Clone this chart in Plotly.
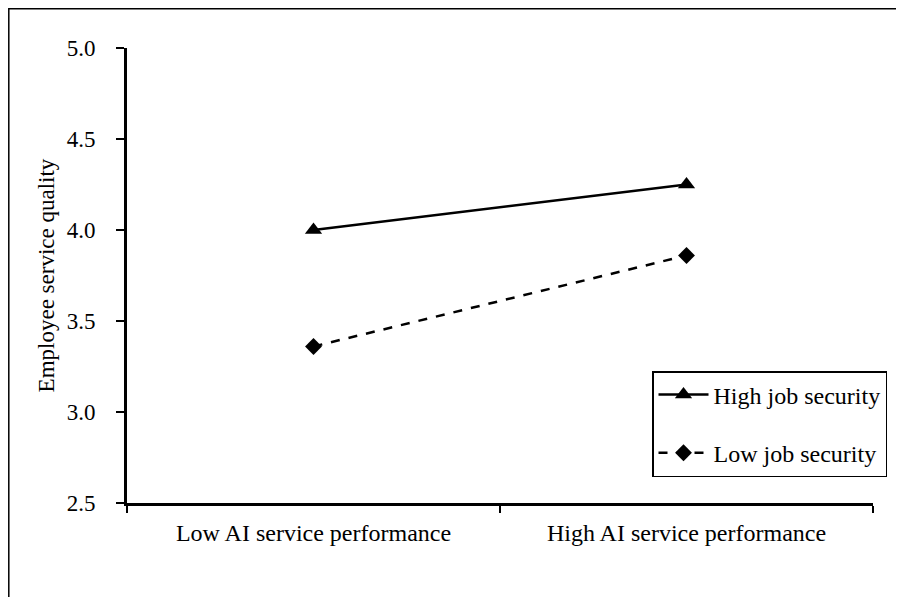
import plotly.graph_objects as go

categories = ["Low AI service performance", "High AI service performance"]
high_security = [4.00, 4.25]
low_security = [3.36, 3.86]
y_ticks = [2.5, 3.0, 3.5, 4.0, 4.5, 5.0]
y_tick_labels = ["2.5", "3.0", "3.5", "4.0", "4.5", "5.0"]

FONT = "Liberation Serif"

fig = go.Figure()
fig.add_trace(go.Scatter(
    x=categories, y=high_security, name="High job security",
    mode="lines+markers", legendgroup="a",
    line=dict(color="black", width=2.5, dash="solid"),
    marker=dict(symbol="triangle-up", size=15, color="black"),
))
fig.add_trace(go.Scatter(
    x=categories, y=low_security, name="Low job security",
    mode="lines+markers", legendgroup="b",
    line=dict(color="black", width=2.5, dash="dash"),
    marker=dict(symbol="diamond", size=13, color="black"),
))

# page body has an 8px margin, so the figure starts at (8, 8)
OFF = 8
L, R, T, B = 127 - OFF, 31, 48 - OFF, 94
W, H = 904 - OFF, 597 - OFF
pw, ph = W - L - R, H - T - B

def px2x(p):
    return (p - OFF - L) / pw

def py2y(p):
    return (H - B - (p - OFF)) / ph

fig.add_shape(type="rect", xref="paper", yref="paper",
              x0=px2x(8.8), x1=px2x(920), y0=py2y(8.8), y1=py2y(620),
              line=dict(color="black", width=1.5), layer="below")

fig.update_layout(
    width=W, height=H,
    margin=dict(l=L, r=R, t=T, b=B, autoexpand=False),
    paper_bgcolor="white", plot_bgcolor="white",
    font=dict(family=FONT, size=23, color="black"),
    showlegend=True,
    legend=dict(
        x=px2x(652), y=py2y(371), xanchor="left", yanchor="top",
        bordercolor="black", borderwidth=1.5, bgcolor="white",
        font=dict(family=FONT, size=24, color="black"),
        tracegroupgap=24, traceorder="grouped", itemwidth=50,
    ),
    xaxis=dict(
        type="category", range=[-0.5, 1.5], automargin=False,
        tickson="boundaries", ticks="outside", ticklen=7, tickwidth=1.5,
        tickcolor="black", showline=True, linecolor="black", linewidth=3,
        showgrid=False, zeroline=False,
        tickfont=dict(family=FONT, size=24), ticklabelstandoff=6,
    ),
    yaxis=dict(
        range=[2.5, 5.0], tickvals=y_ticks, ticktext=y_tick_labels,
        automargin=False,
        ticks="outside", ticklen=8, tickwidth=1.5, tickcolor="black",
        showline=True, linecolor="black", linewidth=3,
        showgrid=False, zeroline=False,
        tickfont=dict(family=FONT, size=23), ticklabelstandoff=16,
        title=dict(text="Employee service quality", standoff=6,
                   font=dict(family=FONT, size=23)),
    ),
)

fig.write_html("out.html")
